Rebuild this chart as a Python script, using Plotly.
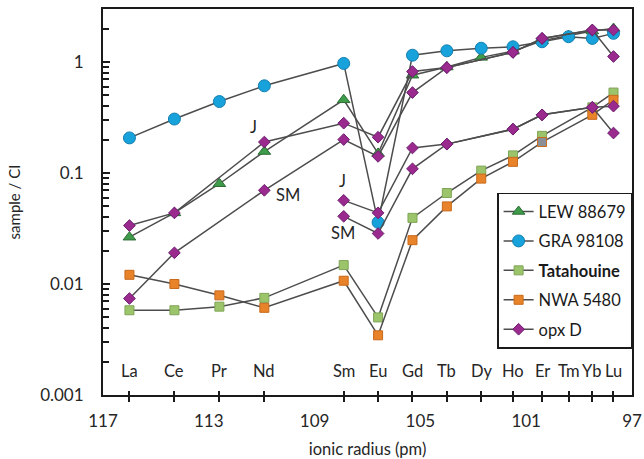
import plotly.graph_objects as go
import math

elements = ["La", "Ce", "Pr", "Nd", "Sm", "Eu", "Gd", "Tb", "Dy", "Ho", "Er", "Tm", "Yb", "Lu"]
radii = [116.0, 114.3, 112.6, 110.9, 107.9, 106.6, 105.3, 104.0, 102.7, 101.5, 100.4, 99.4, 98.5, 97.7]
x_ticks = [117, 113, 109, 105, 101, 97]

lew = [0.0264, 0.0437, 0.080, 0.156, 0.456, 0.15, 0.76, 0.90, 1.10, 1.25, 1.55, 1.72, 1.90, 2.0]
gra = [0.207, 0.306, 0.44, 0.61, 0.97, 0.0359, 1.15, 1.26, 1.33, 1.37, 1.52, 1.69, 1.63, 1.81]
tat = [0.0058, 0.0058, 0.00625, 0.0075, 0.0148, 0.0050, 0.0394, 0.066, 0.105, 0.144, 0.216, None, 0.39, 0.53]
nwa = [0.0121, 0.0100, 0.0079, 0.0061, 0.0107, 0.00345, 0.0248, 0.050, 0.089, 0.126, 0.19, None, 0.334, 0.456]
opx_j_upper = [0.0336, 0.0437, None, 0.19, 0.281, 0.21, 0.82, 0.89, None, 1.22, 1.63, None, 1.94, 1.94]
opx_sm_upper = [0.0074, 0.0191, None, 0.0698, 0.20, 0.141, 0.53, 0.89, None, 1.22, 1.63, None, 1.94, 1.12]
opx_j_lower = [None, None, None, None, 0.0567, 0.0437, 0.168, 0.182, None, 0.248, 0.334, None, 0.39, 0.40]
opx_sm_lower = [None, None, None, None, 0.0407, 0.0285, 0.109, 0.182, None, 0.248, 0.334, None, 0.39, 0.229]

labels = [("J", 111.3, 0.262), ("SM", 110.0, 0.0638), ("J", 107.93, 0.084), ("SM", 107.93, 0.029)]

LINE = dict(color="#4d4d4d", width=1.5)
FONT = "Lato, 'Open Sans', sans-serif"

fig = go.Figure()

def add(name, y, symbol, color, outline, size, group, show=True, mcolors=None):
    fig.add_trace(go.Scatter(
        x=radii, y=y, name=name, mode="lines+markers", connectgaps=True,
        line=LINE, legendgroup=group, showlegend=show,
        marker=dict(symbol=symbol, size=size, color=mcolors if mcolors else color,
                    line=dict(color=outline, width=1)),
    ))

add("LEW 88679", lew, "triangle-up", "#3E9B4A", "#2E6B35", 11, "lew")
add("GRA 98108", gra, "circle", "#17A2DC", "#1480B0", 12, "gra")
add("<b>Tatahouine</b>", tat, "square", "#9CC56B", "#7FA457", 9, "tat")
nwa_colors = ["#E8832A"] * len(nwa)
nwa_colors[10] = "#8A9096"
add("NWA 5480", nwa, "square", "#E8832A", "#C86A1C", 9, "nwa", mcolors=nwa_colors)
add("opx D", opx_j_upper, "diamond", "#9A2A8E", "#6E1E70", 9, "opx")
add("opx D", opx_sm_upper, "diamond", "#9A2A8E", "#6E1E70", 9, "opx", show=False)
add("opx D", opx_j_lower, "diamond", "#9A2A8E", "#6E1E70", 9, "opx", show=False)
add("opx D", opx_sm_lower, "diamond", "#9A2A8E", "#6E1E70", 9, "opx", show=False)

# invisible trace for the overlay x axis (inside halves of element ticks)
fig.add_trace(go.Scatter(x=[radii[0]], y=[0.01], xaxis="x2", mode="markers",
                         marker=dict(opacity=0), showlegend=False, hoverinfo="skip"))

label_y = math.log10(0.00164)
for el, r in zip(elements, radii):
    fig.add_annotation(x=r, y=label_y, text=el, showarrow=False,
                       font=dict(family=FONT, size=16.5, color="#262626"))
for t, r, v in labels:
    fig.add_annotation(x=r, y=math.log10(v), text=t, showarrow=False,
                       font=dict(family=FONT, size=16.5, color="#262626"))

fig.update_layout(
    width=644, height=459,
    margin=dict(l=103, r=12, t=9, b=64),
    paper_bgcolor="white", plot_bgcolor="white",
    font=dict(family=FONT, size=17, color="#262626"),
    xaxis=dict(
        range=[117, 97], tickvals=x_ticks, ticktext=[str(v) for v in x_ticks],
        ticks="", showgrid=False, zeroline=False, automargin=False,
        showline=True, linecolor="#1a1a1a", linewidth=2, mirror=True,
        ticklabelstandoff=10, tickfont=dict(size=17),
        minor=dict(tickvals=radii, ticks="outside", ticklen=5, tickcolor="#1a1a1a", tickwidth=1.5),
        title=dict(text="ionic radius (pm)", standoff=14, font=dict(size=16.5)),
    ),
    xaxis2=dict(
        range=[117, 97], overlaying="x", anchor="y", side="bottom", automargin=False,
        tickvals=radii, ticks="inside", ticklen=4, tickcolor="#1a1a1a", tickwidth=1.5,
        showticklabels=False, showgrid=False, zeroline=False, showline=False,
    ),
    yaxis=dict(
        type="log", range=[-3, math.log10(3)],
        tickvals=[0.001, 0.01, 0.1, 1], ticktext=["0.001", "0.01", "0.1", "1"],
        ticks="inside", ticklen=7, tickwidth=2, tickcolor="#1a1a1a",
        showgrid=False, zeroline=False, automargin=False,
        showline=True, linecolor="#1a1a1a", linewidth=2, mirror=True,
        ticklabelstandoff=14, tickfont=dict(size=17),
        minor=dict(dtick="D1", ticks="inside", ticklen=6, tickcolor="#1a1a1a", tickwidth=1.5, showgrid=False),
        title=dict(text="sample / CI", standoff=16, font=dict(size=15)),
    ),
    legend=dict(
        x=0.745, y=0.524, xanchor="left", yanchor="top",
        bgcolor="white", bordercolor="#1a1a1a", borderwidth=1.5,
        font=dict(family=FONT, size=16.5, color="#1a1a1a"),
        itemwidth=30, tracegroupgap=5,
    ),
    showlegend=True,
)

fig.write_html("out.html")
